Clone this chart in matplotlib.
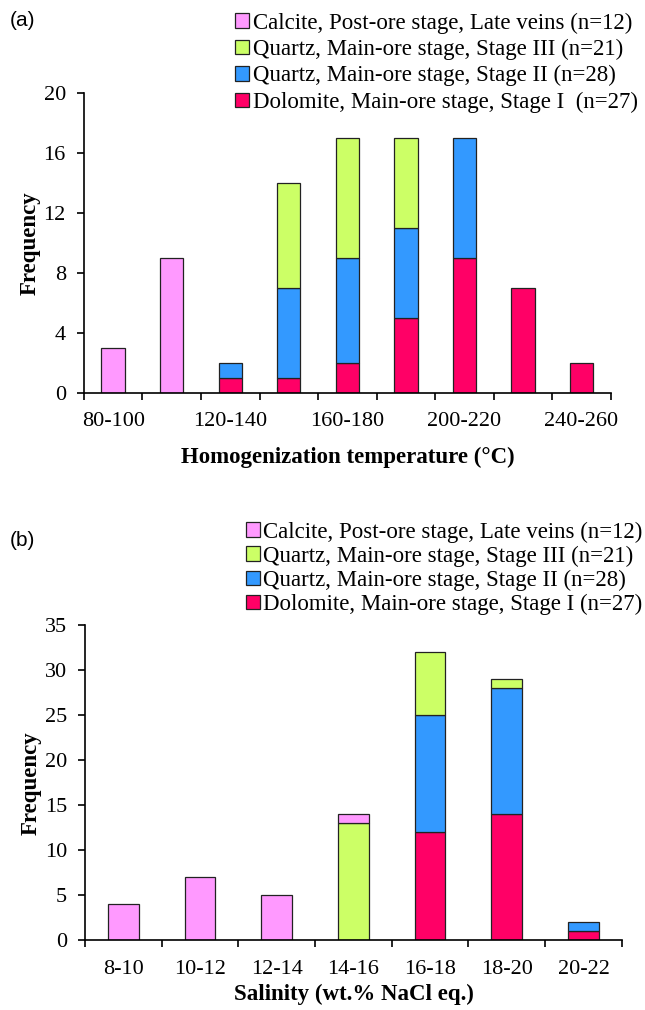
import matplotlib
matplotlib.use("Agg")
import matplotlib.pyplot as plt
import numpy as np

plt.rcParams['font.family'] = ['Liberation Serif', 'DejaVu Serif']

# Panel (a): homogenization temperature
temp_bins = ['80-100', '100-120', '120-140', '140-160', '160-180',
             '180-200', '200-220', '220-240', '240-260']
temp_dolomite = [0, 0, 1, 1, 2, 5, 9, 7, 2]
temp_quartz2 = [0, 0, 1, 6, 7, 6, 8, 0, 0]
temp_quartz3 = [0, 0, 0, 7, 8, 6, 0, 0, 0]
temp_calcite = [3, 9, 0, 0, 0, 0, 0, 0, 0]

# Panel (b): salinity
sal_bins = ['8-10', '10-12', '12-14', '14-16', '16-18', '18-20', '20-22']
sal_dolomite = [0, 0, 0, 0, 12, 14, 1]
sal_quartz2 = [0, 0, 0, 0, 13, 14, 1]
sal_quartz3 = [0, 0, 0, 13, 7, 1, 0]
sal_calcite = [4, 7, 5, 1, 0, 0, 0]

labels_a = ['Dolomite, Main-ore stage, Stage I  (n=27)',
            'Quartz, Main-ore stage, Stage II (n=28)',
            'Quartz, Main-ore stage, Stage III (n=21)',
            'Calcite, Post-ore stage, Late veins (n=12)']
labels_b = ['Dolomite, Main-ore stage, Stage I (n=27)',
            'Quartz, Main-ore stage, Stage II (n=28)',
            'Quartz, Main-ore stage, Stage III (n=21)',
            'Calcite, Post-ore stage, Late veins (n=12)']
colors = ['#FF0066', '#3399FF', '#CCFF66', '#FF99FF']


def stacked(ax, bins, series, labels, yticks, xlabel, label_every,
            legend_pos, spacing, xpad):
    x = np.arange(len(bins))
    bottom = np.zeros(len(bins))
    handles = []
    for vals, lab, col in zip(series, labels, colors):
        vals = np.array(vals, dtype=float)
        # skip zero-height segments so no stray edge lines appear
        h = np.where(vals > 0, vals, np.nan)
        b = ax.bar(x, h, 0.4, bottom=bottom, color=col, edgecolor='#222222',
                   linewidth=0.9, label=lab)
        handles.append(b)
        bottom += vals

    ax.set_xlim(-0.5, len(bins) - 0.5)
    ax.set_ylim(0, yticks[-1])
    ax.set_yticks(yticks)
    ax.set_xticks(np.arange(len(bins) + 1) - 0.5)
    ax.set_xticklabels([])
    ax.set_xticks(x[::label_every], minor=True)
    ax.set_xticklabels(bins[::label_every], minor=True)
    ax.tick_params(axis='x', which='minor', length=0, pad=14, labelsize=16)
    ax.tick_params(axis='x', which='major', direction='out', length=5, width=1.2)
    ax.tick_params(axis='y', direction='out', length=5, width=1.2,
                   labelsize=16, pad=8)
    for s in ['top', 'right']:
        ax.spines[s].set_visible(False)
    for s in ['left', 'bottom']:
        ax.spines[s].set_linewidth(1.2)
    ax.set_xlabel(xlabel, fontsize=16.5, fontweight='bold', labelpad=xpad)
    ax.set_ylabel('Frequency', fontsize=16.5, fontweight='bold', labelpad=2)

    ax.legend(handles[::-1], labels[::-1], loc='upper right',
              bbox_to_anchor=legend_pos, bbox_transform=ax.figure.transFigure,
              frameon=False, fontsize=16.5, handlelength=0.6, handleheight=0.6,
              handletextpad=0.15, labelspacing=spacing, borderpad=0.1,
              borderaxespad=0)


fig = plt.figure(figsize=(6.45, 10.1), dpi=100)

ax1 = fig.add_axes([0.130, 0.611, 0.817, 0.297])
stacked(ax1, temp_bins,
        [temp_dolomite, temp_quartz2, temp_quartz3, temp_calcite],
        labels_a, [0, 4, 8, 12, 16, 20],
        'Homogenization temperature (°C)', 2, (0.992, 0.990), 0.23, 11)

ax2 = fig.add_axes([0.132, 0.069, 0.832, 0.312])
stacked(ax2, sal_bins,
        [sal_dolomite, sal_quartz2, sal_quartz3, sal_calcite],
        labels_b, [0, 5, 10, 15, 20, 25, 30, 35],
        'Salinity (wt.% NaCl eq.)', 1, (1.0, 0.486), 0.13, 4)

fig.text(0.015, 0.980, '(a)', fontsize=15, family='Liberation Sans', va='center')
fig.text(0.015, 0.465, '(b)', fontsize=15, family='Liberation Sans', va='center')

fig.savefig('out.png', dpi=100)
